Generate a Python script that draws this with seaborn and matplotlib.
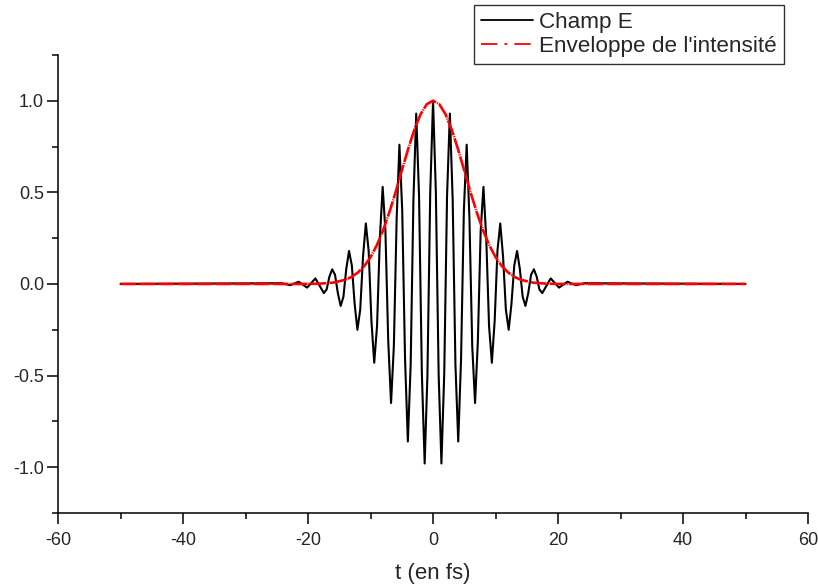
import matplotlib
matplotlib.use("Agg")
import matplotlib.pyplot as plt
from matplotlib.lines import Line2D
from matplotlib.ticker import MultipleLocator
import seaborn as sns

sns.set_style("ticks")
plt.rcParams["font.family"] = ["Liberation Sans", "DejaVu Sans"]
plt.rcParams["axes.unicode_minus"] = False

# Champ E : points (t in fs, amplitude)
t_champ = [-50, -24.19, -22.85, -21.50, -20.16, -18.82, -17.47, -17.02, -16.58,
           -16.13, -15.68, -15.23, -14.78, -14.34, -13.89, -13.44, -12.99, -12.54,
           -12.10, -11.65, -11.20, -10.75, -10.30, -9.86, -9.41, -8.96, -8.51,
           -8.06, -7.62, -7.17, -6.72, -6.27, -5.82, -5.38, -4.93, -4.48,
           -4.03, -3.58, -3.14, -2.69, -2.24, -1.79, -1.34, -0.90, -0.45,
           0.0,
           0.45, 0.90, 1.34, 1.79, 2.24, 2.69, 3.14, 3.58, 4.03,
           4.48, 4.93, 5.38, 5.82, 6.27, 6.72, 7.17, 7.62, 8.06,
           8.51, 8.96, 9.41, 9.86, 10.30, 10.75, 11.20, 11.65, 12.10,
           12.54, 12.99, 13.44, 13.89, 14.34, 14.78, 15.23, 15.68, 16.13,
           16.58, 17.02, 17.47, 18.82, 20.16, 21.50, 22.85, 24.19, 50]
e_champ = [0.0, 0.004, -0.007, 0.012, -0.02, 0.03, -0.05, -0.03, 0.04,
           0.08, 0.05, -0.05, -0.12, -0.07, 0.08, 0.18, 0.10, -0.11,
           -0.25, -0.14, 0.15, 0.33, 0.18, -0.20, -0.43, -0.23, 0.25,
           0.53, 0.29, -0.31, -0.65, -0.34, 0.36, 0.76, 0.40, -0.41,
           -0.86, -0.44, 0.46, 0.93, 0.48, -0.49, -0.98, -0.50, 0.50,
           1.0,
           0.50, -0.50, -0.98, -0.49, 0.48, 0.93, 0.46, -0.44, -0.86,
           -0.41, 0.40, 0.76, 0.36, -0.34, -0.65, -0.31, 0.29, 0.53,
           0.25, -0.23, -0.43, -0.20, 0.18, 0.33, 0.15, -0.14, -0.25,
           -0.11, 0.10, 0.18, 0.08, -0.07, -0.12, -0.05, 0.05, 0.08,
           0.04, -0.03, -0.05, 0.03, -0.02, 0.012, -0.007, 0.004, 0.0]

# Enveloppe de l'intensité
t_env = [-50, -20, -18, -16, -14, -13, -12, -11, -10, -9, -8, -7, -6, -5, -4,
         -3, -2, -1, 0, 1, 2, 3, 4, 5, 6, 7, 8, 9, 10, 11, 12, 13, 14, 16,
         18, 20, 50]
i_env = [0.0, 0.0, 0.002, 0.007, 0.023, 0.039, 0.063, 0.098, 0.146, 0.211,
         0.292, 0.390, 0.500, 0.618, 0.735, 0.841, 0.926, 0.981, 1.0, 0.981,
         0.926, 0.841, 0.735, 0.618, 0.500, 0.390, 0.292, 0.211, 0.146, 0.098,
         0.063, 0.039, 0.023, 0.007, 0.002, 0.0, 0.0]

fig = plt.figure(figsize=(8.18, 5.88), dpi=100)
ax = fig.add_axes([0.0709, 0.1276, 0.917, 0.779])

sns.lineplot(x=t_champ, y=e_champ, color="black", lw=1.5, estimator=None, ax=ax)
sns.lineplot(x=t_env, y=i_env, color="red", lw=1.9, estimator=None, ax=ax,
             linestyle=(0, (6, 0.4, 0.4, 0.4)))

ax.set_xlim(-60, 60)
ax.set_ylim(-1.25, 1.25)
ax.xaxis.set_major_locator(MultipleLocator(20))
ax.xaxis.set_minor_locator(MultipleLocator(10))
ax.yaxis.set_major_locator(MultipleLocator(0.5))
ax.yaxis.set_minor_locator(MultipleLocator(0.25))
ax.tick_params(which="major", length=8, width=1.1, labelsize=13, direction="out", color="black")
ax.tick_params(which="minor", length=4, width=1.1, direction="out", color="black")
ax.tick_params(axis="x", which="major", pad=6)
ax.tick_params(axis="y", which="major", pad=2)
ax.yaxis.set_major_formatter(plt.FormatStrFormatter("%.1f"))

for side in ["top", "right"]:
    ax.spines[side].set_visible(False)
for side in ["left", "bottom"]:
    ax.spines[side].set_linewidth(1.1)
    ax.spines[side].set_color("black")

ax.set_xlabel("t (en fs)", fontsize=16, labelpad=10)
ax.set_ylabel("")

handles = [
    Line2D([], [], color="black", lw=1.3, label="Champ E"),
    Line2D([], [], color="red", lw=1.3, ls=(0, (9, 4, 1.5, 4)), label="Enveloppe de l'intensité"),
]
leg = fig.legend(handles=handles, loc="upper right", bbox_to_anchor=(0.9584, 0.9915),
                 fontsize=16.2, frameon=True, fancybox=False, edgecolor="black",
                 handlelength=2.3, handletextpad=0.3, borderpad=0.3, labelspacing=0.15,
                 borderaxespad=0)
leg.get_frame().set_linewidth(1.0)

fig.savefig("out.png", dpi=100)
